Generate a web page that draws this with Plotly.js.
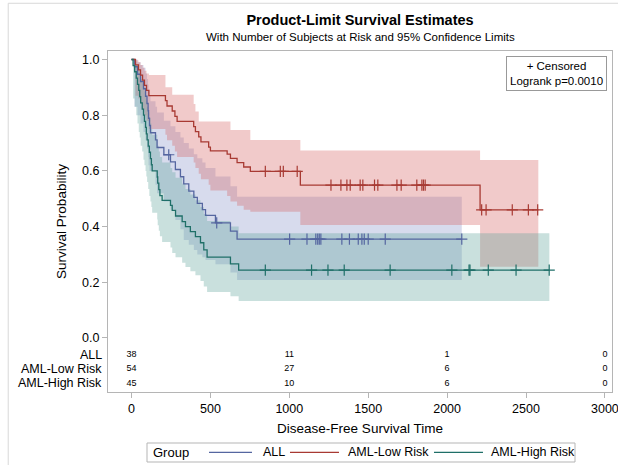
<!DOCTYPE html>
<html>
<head>
<meta charset="utf-8">
<script src="https://cdn.plot.ly/plotly-3.0.1.min.js"></script>
<style>html,body{margin:0;padding:0;background:#fff;}#chart{width:618px;height:465px;}</style>
</head>
<body>
<div id="chart"></div>
<script>
// ---------- DATA ----------
var groups = ["ALL", "AML-Low Risk", "AML-High Risk"];
var legendTitle = "Group";

// Kaplan-Meier step curves: event times (days) and survival after each time
var allTimes = [0,19,38,57,76,89,98,105,108,114,120,152,162,205,247,278,310,331,363,395,417,449,469,532,627,669,2093];
var allSurv  = [1,0.974,0.947,0.921,0.895,0.868,0.842,0.816,0.789,0.763,0.737,0.711,0.684,0.658,0.632,0.605,0.579,0.553,0.527,0.505,0.483,0.461,0.44,0.413,0.384,0.355,0.355];
var allUpper = [1,1,0.99,0.98,0.97,0.95,0.93,0.91,0.89,0.87,0.85,0.83,0.81,0.78,0.76,0.74,0.72,0.7,0.68,0.66,0.645,0.63,0.61,0.58,0.545,0.507,0.507];
var allLower = [1,0.83,0.8,0.77,0.74,0.71,0.68,0.65,0.62,0.6,0.6,0.55,0.52,0.49,0.46,0.424,0.39,0.352,0.335,0.316,0.3,0.29,0.28,0.265,0.235,0.208,0.208];
var allCensor = [236,540,1002,1112,1168,1180,1190,1200,1333,1381,1437,1460,1475,1500,1608,2093];

var lowTimes = [0,25,44,57,70,82,95,110,215,225,258,275,289,394,405,426,440,489,500,606,627,669,711,753,1070,2209,2578];
var lowSurv  = [1,0.981,0.963,0.944,0.926,0.907,0.889,0.87,0.852,0.833,0.815,0.796,0.778,0.759,0.741,0.722,0.704,0.685,0.672,0.66,0.645,0.63,0.614,0.598,0.549,0.46,0.46];
var lowUpper = [1,0.997,0.99,0.98,0.97,0.96,0.95,0.944,0.9,0.9,0.873,0.873,0.873,0.84,0.813,0.777,0.777,0.777,0.777,0.777,0.747,0.747,0.747,0.711,0.673,0.639,0.639];
var lowLower = [1,0.87,0.86,0.84,0.82,0.8,0.78,0.75,0.73,0.71,0.69,0.67,0.65,0.63,0.61,0.59,0.57,0.55,0.53,0.51,0.49,0.475,0.46,0.453,0.406,0.256,0.256];
var lowCensor = [848,943,962,1050,1264,1327,1365,1386,1449,1466,1540,1561,1682,1709,1808,1840,1850,1861,2219,2247,2413,2515,2574];

var highTimes = [0,10,20,30,38,46,52,58,68,76,82,89,94,99,106,113,120,126,131,163,166,173,180,194,247,258,279,321,342,373,405,437,458,479,627,679,2648];
var highSurv  = [1,0.978,0.956,0.933,0.911,0.889,0.867,0.844,0.822,0.8,0.778,0.756,0.733,0.711,0.689,0.667,0.644,0.622,0.6,0.578,0.556,0.533,0.511,0.494,0.476,0.458,0.438,0.418,0.4,0.382,0.364,0.342,0.316,0.29,0.266,0.244,0.244];
var highUpper = [1,0.998,0.99,0.98,0.97,0.96,0.945,0.93,0.915,0.9,0.885,0.87,0.85,0.83,0.81,0.79,0.77,0.75,0.73,0.71,0.69,0.67,0.65,0.63,0.61,0.595,0.575,0.555,0.535,0.515,0.495,0.47,0.445,0.42,0.4,0.376,0.376];
var highLower = [1,0.86,0.83,0.8,0.77,0.74,0.72,0.69,0.67,0.64,0.62,0.6,0.58,0.56,0.535,0.51,0.49,0.47,0.45,0.425,0.405,0.385,0.365,0.345,0.325,0.305,0.29,0.27,0.255,0.24,0.225,0.205,0.185,0.165,0.15,0.133,0.133];
var highCensor = [848,1141,1245,1348,1639,2030,2139,2145,2261,2437,2647];

// Number of subjects at risk
var atRiskTimes = [0, 1000, 2000, 3000];
var atRiskALL  = [38, 11, 1, 0];
var atRiskLow  = [54, 27, 6, 0];
var atRiskHigh = [45, 10, 6, 0];

var xTicks = [0, 500, 1000, 1500, 2000, 2500, 3000];
var yTicks = [0, 0.2, 0.4, 0.6, 0.8, 1.0];

// ---------- STYLE ----------
var lineColors = ["#5566A0", "#A83A33", "#1F6F68"];
var bandColors = ["rgba(111,126,190,0.28)", "rgba(214,95,95,0.33)", "rgba(92,160,152,0.33)"];
var rowY = [-0.061, -0.112, -0.163];
var FONT = "Liberation Sans, Arial, sans-serif";
// legend layout (paper coordinates)
var legBox = {x0: 0.0774, x1: 0.9266, y0: -0.2053, y1: -0.1496, yc: -0.177};
var legLineX = [[0.2004, 0.2857], [0.3611, 0.4583], [0.6468, 0.744]];
var legTextX = [0.3036, 0.4722, 0.756];
var legTitleX = 0.0853;

function survAt(times, vals, t) {
  var v = vals[0];
  for (var i = 0; i < times.length; i++) { if (times[i] <= t) v = vals[i]; }
  return v;
}

var series = [
  {name: groups[0], t: allTimes, s: allSurv, u: allUpper, l: allLower, c: allCensor},
  {name: groups[1], t: lowTimes, s: lowSurv, u: lowUpper, l: lowLower, c: lowCensor},
  {name: groups[2], t: highTimes, s: highSurv, u: highUpper, l: highLower, c: highCensor}
];

var traces = [];
// confidence bands
series.forEach(function (g, i) {
  traces.push({x: g.t, y: g.l, type: "scatter", mode: "lines", line: {width: 0, shape: "hv"},
    showlegend: false, hoverinfo: "skip"});
  traces.push({x: g.t, y: g.u, type: "scatter", mode: "lines", line: {width: 0, shape: "hv"},
    fill: "tonexty", fillcolor: bandColors[i], showlegend: false, hoverinfo: "skip"});
});
// survival lines
series.forEach(function (g, i) {
  traces.push({x: g.t, y: g.s, type: "scatter", mode: "lines", name: g.name, showlegend: false,
    line: {color: lineColors[i], width: 1.3, shape: "hv"}});
});
// censor marks
series.forEach(function (g, i) {
  traces.push({x: g.c, y: g.c.map(function (t) { return survAt(g.t, g.s, t); }),
    type: "scatter", mode: "markers", showlegend: false,
    marker: {symbol: "cross-thin", size: 8, color: lineColors[i], line: {color: lineColors[i], width: 1.2}}});
});
// at-risk table
[atRiskALL, atRiskLow, atRiskHigh].forEach(function (arr, i) {
  traces.push({x: atRiskTimes, y: atRiskTimes.map(function () { return rowY[i]; }),
    type: "scatter", mode: "text", text: arr.map(String), textposition: "middle center",
    textfont: {family: FONT, size: 9, color: "#000"}, showlegend: false, cliponaxis: false, hoverinfo: "skip"});
});

var annotations = [
  {text: "With Number of Subjects at Risk and 95% Confidence Limits", xref: "paper", yref: "paper",
   x: 0.5, y: 1.041, xanchor: "center", yanchor: "middle", showarrow: false,
   font: {family: FONT, size: 11.5, color: "#000"}},
  {text: "+ Censored<br>Logrank p=0.0010", xref: "paper", yref: "paper", x: 0.99, y: 0.985,
   xanchor: "right", yanchor: "top", align: "center", showarrow: false, bordercolor: "#999",
   borderwidth: 1, borderpad: 3, bgcolor: "#fff", font: {family: FONT, size: 11.5, color: "#000"}},
  {text: legendTitle, xref: "paper", yref: "paper", x: legTitleX, y: legBox.yc, xanchor: "left",
   yanchor: "middle", showarrow: false, font: {family: FONT, size: 13, color: "#000"}}
];
groups.forEach(function (g, i) {
  annotations.push({text: g, xref: "paper", yref: "y", x: -0.008, y: rowY[i], xanchor: "right",
    yanchor: "middle", showarrow: false, font: {family: FONT, size: 12.5, color: "#000"}});
  annotations.push({text: g, xref: "paper", yref: "paper", x: legTextX[i], y: legBox.yc, xanchor: "left",
    yanchor: "middle", showarrow: false, font: {family: FONT, size: 12.5, color: "#000"}});
});

var shapes = [
  {type: "rect", xref: "paper", yref: "paper", x0: -0.198, x1: 1.05, y0: -0.25, y1: 1.14,
   line: {color: "#d8d8d8", width: 1}, fillcolor: "rgba(0,0,0,0)", layer: "below"},
  {type: "rect", xref: "paper", yref: "paper", x0: legBox.x0, x1: legBox.x1, y0: legBox.y0, y1: legBox.y1,
   line: {color: "#b5b5b5", width: 1}, fillcolor: "rgba(0,0,0,0)"}
];
groups.forEach(function (g, i) {
  shapes.push({type: "line", xref: "paper", yref: "paper", x0: legLineX[i][0], x1: legLineX[i][1],
    y0: legBox.yc, y1: legBox.yc, line: {color: lineColors[i], width: 1.3}});
});

var layout = {
  width: 618, height: 465,
  margin: {l: 108, r: 6, t: 51, b: 73, autoexpand: false},
  paper_bgcolor: "#fff", plot_bgcolor: "#fff",
  font: {family: FONT, size: 12, color: "#000"},
  title: {text: "<b>Product-Limit Survival Estimates</b>", font: {family: FONT, size: 14.5, color: "#000"},
    x: 0.5, xref: "paper", xanchor: "center", y: 0.957, yref: "container", yanchor: "middle"},
  xaxis: {range: [-149, 3045], tickvals: xTicks, ticktext: xTicks.map(String), showgrid: false, zeroline: false,
    showline: true, mirror: true, linecolor: "#b5b5b5", linewidth: 1, ticks: "outside", ticklen: 5,
    tickcolor: "#b5b5b5", tickfont: {family: FONT, size: 12.5}, automargin: false, ticklabeloverflow: "allow",
    title: {text: "Disease-Free Survival Time", font: {family: FONT, size: 13.5}, standoff: 8}},
  yaxis: {range: [-0.194, 1.0305], tickvals: yTicks, ticktext: yTicks.map(function (v) { return v.toFixed(1); }),
    showgrid: false, zeroline: false, showline: true, mirror: true, linecolor: "#b5b5b5", linewidth: 1,
    ticks: "outside", ticklen: 5, tickcolor: "#b5b5b5", tickfont: {family: FONT, size: 12.5}, automargin: false,
    title: {text: "Survival Probability", font: {family: FONT, size: 13.5}, standoff: 12}},
  annotations: annotations,
  shapes: shapes,
  showlegend: false
};

Plotly.newPlot("chart", traces, layout, {displayModeBar: false, staticPlot: true});
</script>
</body>
</html>
